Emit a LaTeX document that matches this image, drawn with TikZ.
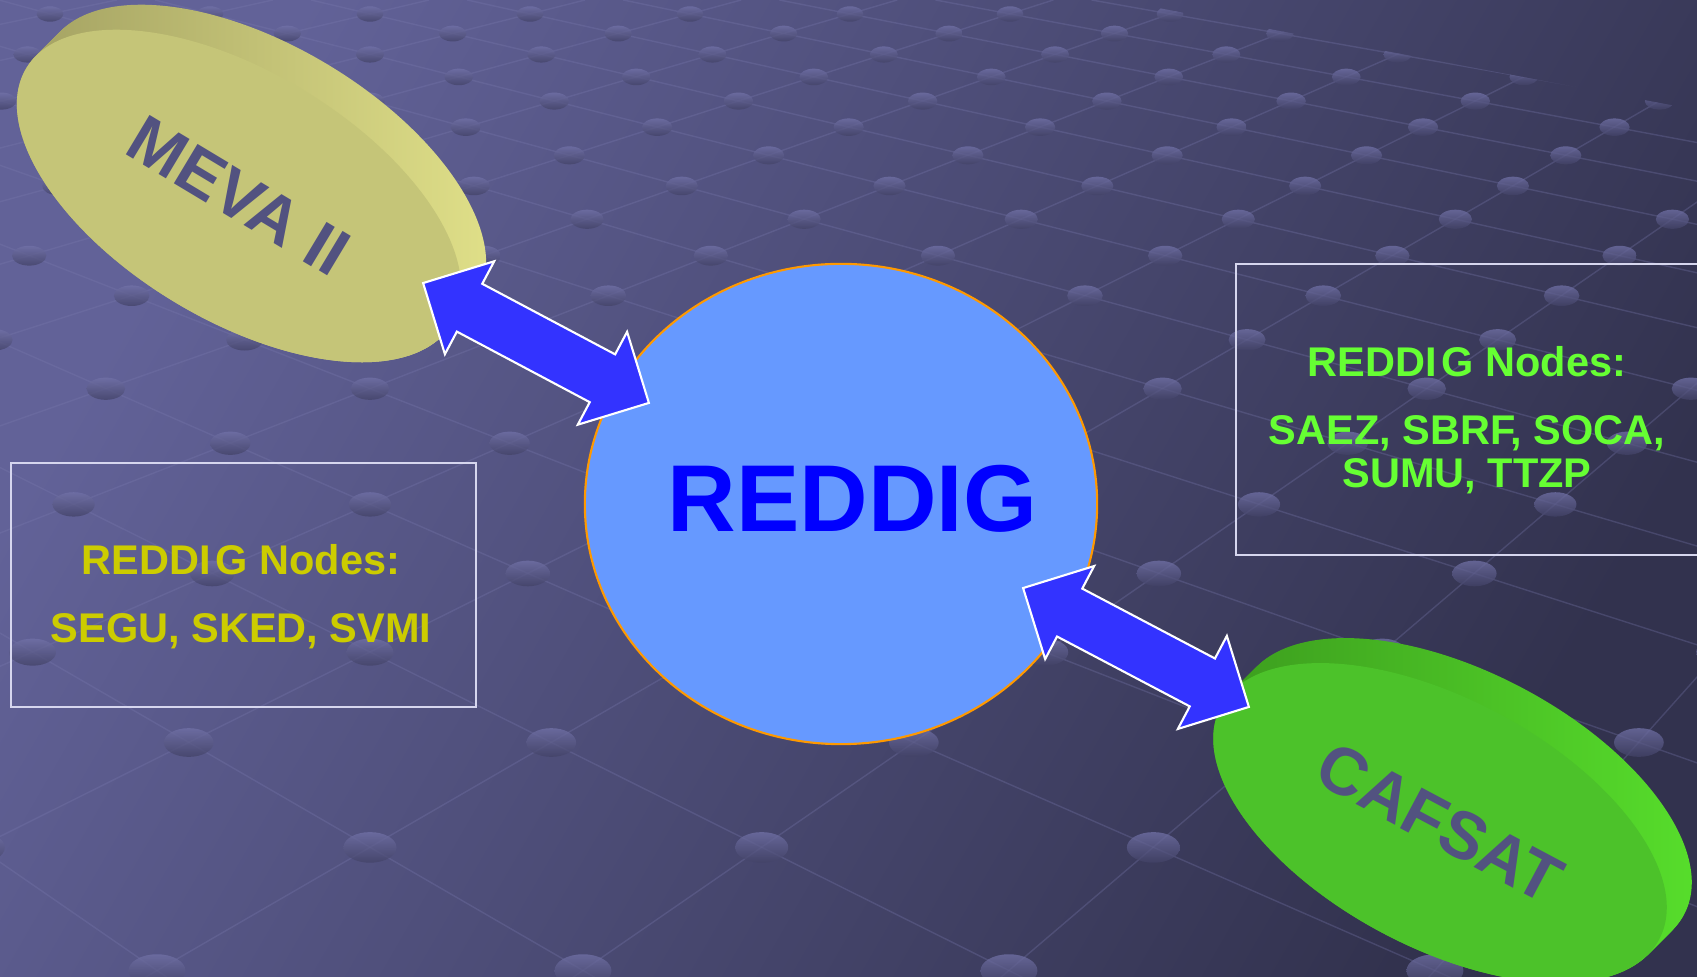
\documentclass[tikz,border=0pt]{standalone}
\usepackage{fontspec}
\setmainfont{Liberation Sans}
\usetikzlibrary{shapes,calc,positioning}
\definecolor{decktop}{RGB}{98,98,152}
\definecolor{deckbottom}{RGB}{50,50,78}
\definecolor{gridink}{RGB}{122,122,175}
\definecolor{dotlight}{RGB}{114,114,168}
\definecolor{dotdark}{RGB}{66,66,102}
\definecolor{mevaface}{RGB}{197,197,120}
\definecolor{mevarimdark}{RGB}{163,161,98}
\definecolor{mevarimlight}{RGB}{226,226,138}
\definecolor{cafsatface}{RGB}{76,194,42}
\definecolor{cafsatrimdark}{RGB}{60,156,30}
\definecolor{cafsatrimlight}{RGB}{88,224,44}
\definecolor{discink}{RGB}{82,82,128}
\definecolor{hubblue}{RGB}{102,153,255}
\definecolor{hubedge}{RGB}{255,153,0}
\definecolor{hubink}{RGB}{0,0,255}
\definecolor{linkblue}{RGB}{51,51,255}
\definecolor{boxedge}{RGB}{214,214,238}
\definecolor{westink}{RGB}{204,204,0}
\definecolor{eastink}{RGB}{102,255,51}
\tikzset{grid line/.style={draw=gridink, line width=0.4pt, opacity=0.3}}
\tikzset{grid dot/.style={top color=dotlight, bottom color=dotdark, fill opacity=0.75}}
\tikzset{disc face/.style={ellipse, inner sep=0pt, minimum width=4.96cm, minimum height=2.48cm,
    text=discink, font=\bfseries\fontsize{19}{21}\selectfont}}
\tikzset{hub node/.style={ellipse, draw=hubedge, line width=0.6pt, fill=hubblue,
    inner sep=0pt, minimum width=5.12cm, minimum height=4.8cm}}
\tikzset{hub title/.style={text=hubink, font=\bfseries\fontsize{27}{30}\selectfont}}
\tikzset{note box/.style={draw=boxedge, line width=0.6pt, inner sep=0pt}}
\tikzset{note text/.style={align=center, font=\bfseries\fontsize{11.8}{12.3}\selectfont}}
\tikzset{link arrow/.style={double arrow, double arrow head extend=0.255cm,
    inner xsep=0pt, inner ysep=0.26cm, fill=linkblue, draw=white, line width=0.6pt}}

\begin{document}
\begin{tikzpicture}[x=0.01cm, y=-0.01cm]
  \useasboundingbox (0,0) rectangle (1697,977);
  \shade [top color=decktop, bottom color=deckbottom, shading angle=60] (0,0) rectangle (1697,977);

  % floor grid
  \begin{scope}
    \clip (0,0) -- (1116,0) -- (1697,110) -- (1697,977) -- (0,977) -- cycle;
    \foreach \j in {-9,...,10}
      \draw [grid line] ({-2064+78.05*(30.43-2*\j)},0) -- ({-2064+214.06*(30.43-2*\j)},978.5);
    \foreach \i in {-3,...,13}
      \draw [grid line] ({2804-78.05*(30.43-2*\i)},0) -- ({2804-214.06*(30.43-2*\i)},978.5);
    \foreach \k in {0,...,19} {
      \pgfmathsetmacro\w{1751.3/(30.43-\k)*10}
      \pgfmathsetmacro\hs{0.139*\w}
      \pgfmathsetlengthmacro\rx{0.0045*\w*1pt+1.2pt}
      \pgfmathsetlengthmacro\ry{0.0026*\w*1pt+0.7pt}
      \foreach \n in {-3,...,9}
        \shade [grid dot] ({370+(2*\n+mod(\k,2))*\hs},{\w-561.5}) ellipse [x radius=\rx, y radius=\ry];
    }
  \end{scope}

  % discs
  \foreach \k in {0,...,25}
    \shade [left color=mevarimdark, right color=mevarimlight, rotate around={-31:({239+\k},{196-\k})}]
      ({239+\k},{196-\k}) ellipse [x radius=2.48cm, y radius=1.24cm];
  \node [disc face, fill=mevaface, rotate=-31] (meva) at (239,196) {MEVA II};

  \foreach \k in {0,...,25}
    \shade [left color=cafsatrimdark, right color=cafsatrimlight, rotate around={-28:({1440+\k},{823-\k})}]
      ({1440+\k},{823-\k}) ellipse [x radius=2.48cm, y radius=1.24cm];
  \node [disc face, fill=cafsatface, rotate=-28] (cafsat) at (1440,823) {CAFSAT};

  \node [hub node]  (reddig)       at (841,504)   {};
  \node [hub title] (reddig title) at (852.5,499) {REDDIG};

  % station lists
  \node [note box, minimum width=4.65cm, minimum height=2.44cm] (west box) at (243.5,585) {};
  \node [note box, minimum width=4.74cm, minimum height=2.91cm] (east box) at (1473,409.5) {};
  \node [note text, text=westink] (west list) at (241,597)
    {REDDI\kern.12em G Nodes:\\[7pt]SEGU, SKED, SVMI};
  \node [note text, text=eastink] (east list) at (1467,420)
    {REDDI\kern.12em G Nodes:\\[7pt]SAEZ, SBRF, SOCA,\\SUMU, TTZP};

  % links
  \coordinate (meva port)      at (423,283);
  \coordinate (reddig port nw) at (649,403);
  \coordinate (reddig port se) at (1023,588);
  \coordinate (cafsat port)    at (1249,707);
  \path let \p1 = ($(reddig port nw)-(meva port)$), \n1 = {veclen(\x1,\y1)} in
    (meva port) -- (reddig port nw)
    node [link arrow, midway, sloped, minimum height=\n1] (meva link) {};
  \path let \p1 = ($(cafsat port)-(reddig port se)$), \n1 = {veclen(\x1,\y1)} in
    (reddig port se) -- (cafsat port)
    node [link arrow, midway, sloped, minimum height=\n1] (cafsat link) {};
\end{tikzpicture}
\end{document}
